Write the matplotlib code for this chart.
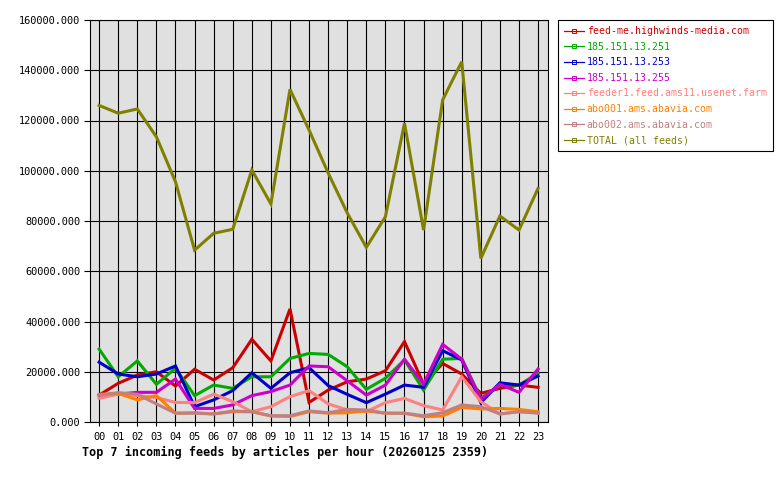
import matplotlib
matplotlib.use("Agg")
import matplotlib.pyplot as plt
from matplotlib.lines import Line2D
from matplotlib.ticker import FuncFormatter, MultipleLocator

hours = ["00", "01", "02", "03", "04", "05", "06", "07", "08", "09", "10", "11",
         "12", "13", "14", "15", "16", "17", "18", "19", "20", "21", "22", "23"]

feed_me = [10700, 15400, 18700, 20000, 14300, 21000, 16700, 21600, 32900, 24300, 45000, 7800,
           12700, 16000, 17100, 20400, 32000, 15100, 23300, 19100, 11400, 13400, 14700, 13800]
h251 = [29000, 18000, 24300, 15000, 21400, 10500, 14700, 13400, 18000, 18000, 25300, 27300,
        26900, 22000, 13000, 17400, 24700, 12700, 25000, 25300, 9400, 14700, 14700, 19400]
h253 = [23800, 19100, 18000, 19100, 22300, 6100, 8800, 12500, 19600, 13400, 19600, 21600,
        14500, 11000, 7700, 11100, 14700, 13800, 28400, 24700, 7700, 15600, 14700, 18300]
h255 = [10700, 11100, 11800, 11800, 17100, 5400, 5400, 6800, 10500, 12100, 14700, 22300,
        22000, 16400, 10700, 14700, 25000, 15100, 30900, 25000, 9000, 15000, 11800, 21100]
feeder1 = [9400, 11100, 10500, 9700, 7800, 7700, 11100, 8100, 4100, 6100, 10100, 12500,
           7200, 4800, 4100, 7700, 9400, 6500, 4800, 18000, 8100, 3200, 4100, 3700]
abo001 = [11000, 11400, 8800, 10500, 3500, 3700, 3200, 4100, 4100, 2400, 2200, 4100,
          3500, 3700, 4400, 3500, 3500, 2100, 2400, 5800, 5200, 5400, 5000, 4100]
abo002 = [10700, 11700, 11000, 7200, 3500, 3500, 3200, 4400, 4100, 2500, 2500, 4400,
          3700, 5000, 4800, 3500, 3500, 2500, 3700, 6800, 6100, 3200, 4100, 3500]
total = [126000, 122900, 124600, 113500, 95600, 68400, 75100, 76700, 100300, 86800, 132400, 116200,
         99100, 83200, 69500, 81700, 118900, 76400, 128200, 143400, 65100, 82000, 76400, 93000]

labels = ["feed-me.highwinds-media.com", "185.151.13.251", "185.151.13.253", "185.151.13.255",
          "feeder1.feed.ams11.usenet.farm", "abo001.ams.abavia.com", "abo002.ams.abavia.com",
          "TOTAL (all feeds)"]
colors = ["#cc0000", "#00aa00", "#0000cc", "#cc00cc", "#ff8080", "#ff8000", "#c08080", "#808000"]
series = [feed_me, h251, h253, h255, feeder1, abo001, abo002, total]

title = "Top 7 incoming feeds by articles per hour (20260125 2359)"

mono = "DejaVu Sans Mono"
fig = plt.figure(figsize=(7.8, 4.8), dpi=100)
ax = fig.add_axes([90/780, 1-422/480, (548-90)/780, (422-20)/480])
ax.set_facecolor("#e0e0e0")

x = list(range(len(hours)))
for vals, c in zip(series, colors):
    ax.plot(x, vals, color=c, lw=2.2, solid_joinstyle="miter", zorder=3)

ax.set_xlim(-0.48, 23.52)
ax.set_ylim(0, 160000)
ax.set_xticks(x)
ax.set_xticklabels(hours, fontfamily=mono, fontsize=7.4)
ax.yaxis.set_major_locator(MultipleLocator(20000))
ax.yaxis.set_major_formatter(FuncFormatter(lambda v, p: f"{v:.3f}"))
for lab in ax.get_yticklabels():
    lab.set_fontfamily(mono)
    lab.set_fontsize(7.4)
ax.tick_params(axis="y", length=4, width=0.8, direction="out", pad=3)
ax.tick_params(axis="x", length=3, width=0.8, direction="out", pad=4)
ax.grid(True, color="black", lw=0.8, zorder=1)
ax.set_axisbelow(True)
for s in ax.spines.values():
    s.set_color("black")
    s.set_linewidth(0.8)

fig.text(82/780, 1-452/480, title, fontfamily=mono, fontweight="bold", fontsize=8.5,
         ha="left", va="center")

handles = [Line2D([0], [0], color=c, lw=0.9, marker="s", markersize=2.5,
                  markerfacecolor="none", markeredgecolor=c, markeredgewidth=0.7)
           for c in colors]
leg = fig.legend(handles, labels, loc="upper left",
                 bbox_to_anchor=(558/780, 1-20/480), bbox_transform=fig.transFigure,
                 prop={"family": mono, "size": 7.1}, frameon=True, fancybox=False,
                 edgecolor="black", framealpha=1, borderpad=0.65, labelspacing=0.56,
                 handlelength=2.0, handletextpad=0.25, borderaxespad=0)
leg.get_frame().set_linewidth(0.8)
for t, c in zip(leg.get_texts(), colors):
    t.set_color(c)

fig.savefig("out.png", dpi=100)
